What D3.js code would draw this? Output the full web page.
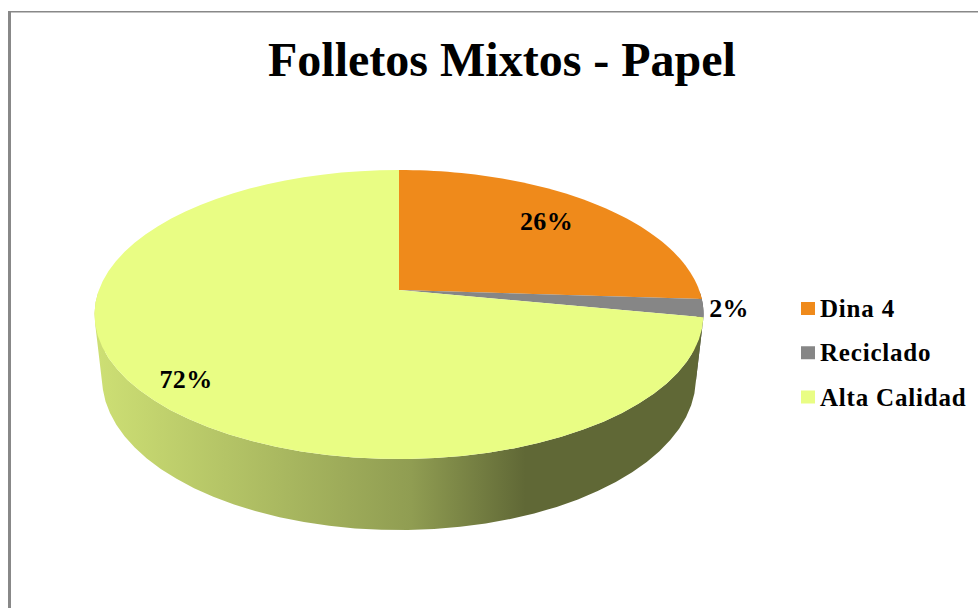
<!DOCTYPE html>
<html lang="es">
<head>
<meta charset="utf-8">
<title>Folletos Mixtos - Papel</title>
<script src="https://cdn.jsdelivr.net/npm/d3@7/dist/d3.min.js"></script>
<style>
  html, body { margin: 0; padding: 0; background: #fff; }
  svg { display: block; }
  text { font-family: "Liberation Serif", serif; font-weight: 700; fill: #000; }
</style>
</head>
<body>
<svg id="chart" width="978" height="608"></svg>
<script>
const chartTitle = "Folletos Mixtos - Papel";
const categories = ["Dina 4", "Reciclado", "Alta Calidad"];
const shares = [26, 2, 72];
const sliceColors = ["#ef8a1b", "#868686", "#e9fd84"];
const sideStops = [
  { at: 0, k: 0.88 },
  { at: 0.52, k: 0.62 },
  { at: 0.71, k: 0.41 },
  { at: 1, k: 0.41 }
];

const W = 978, H = 608;
const svg = d3.select("#chart");

// Frame: only the top and left edges are visible.
svg.append("rect").attr("x", 8).attr("y", 11).attr("width", 3).attr("height", H - 11).attr("fill", "#888");
svg.append("rect").attr("x", 8).attr("y", 11).attr("width", W - 8).attr("height", 1.5).attr("fill", "#888");

// Perspective projection of the disc: z = 0 is the top face, z = 1 the base.
const view = { cx: 399, apexY: 290, radius: 300.1, tilt: 91.2, persp: -0.1696, depth: 72.2, taper: 0.025 };
function project(angle, z, r = 1) {
  const u = r * Math.sin(angle), v = -r * Math.cos(angle);
  const w = 1 + view.persp * v + view.taper * z;
  return [
    view.cx + view.radius * u / w,
    (view.apexY + view.tilt * v + view.depth * z) / w
  ];
}

const pie = d3.pie().value(d => d).sort(null);
const arcs = pie(shares);
const line = d3.line();
const angleSteps = a => d3.range(0, 61).map(i => a.startAngle + (a.endAngle - a.startAngle) * i / 60);

// Wall shading runs from lit on the left to shadow on the right.
const defs = svg.append("defs");
const shadeX = d3.scaleLinear().domain([0, 1]).range([98, 700]);
arcs.forEach((a, i) => {
  const g = defs.append("linearGradient")
    .attr("id", `wall-${i}`)
    .attr("gradientUnits", "userSpaceOnUse")
    .attr("x1", shadeX(0)).attr("x2", shadeX(1))
    .attr("y1", 0).attr("y2", 0);
  const base = d3.rgb(sliceColors[i]);
  sideStops.forEach(s => {
    g.append("stop")
      .attr("offset", s.at)
      .attr("stop-color", d3.rgb(base.r * s.k, base.g * s.k, base.b * s.k).formatHex());
  });
});

// Wall: quads between the top rim and the base rim, front half only.
// Each quad is wound the same way so overlaps near the silhouette stay filled.
const walls = svg.append("g");
arcs.forEach((a, i) => {
  const steps = angleSteps(a);
  const d = d3.pairs(steps)
    .filter(([s, e]) => Math.cos((s + e) / 2) < 0)
    .map(([s, e]) => {
      const quad = [project(s, 0), project(e, 0), project(e, 1), project(s, 1)];
      if (d3.polygonArea(quad) < 0) quad.reverse();
      return line(quad) + "Z";
    }).join("");
  walls.append("path")
    .attr("d", d)
    .attr("fill", `url(#wall-${i})`);
});

// Top face.
svg.append("g").selectAll("path")
  .data(arcs)
  .join("path")
  .attr("d", a => line([project(0, 0, 0), ...angleSteps(a).map(t => project(t, 0))]) + "Z")
  .attr("fill", (a, i) => sliceColors[i]);

// Title.
svg.append("text")
  .attr("x", 502).attr("y", 76)
  .attr("text-anchor", "middle")
  .attr("font-size", 48)
  .text(chartTitle);

// Value labels.
const labelAnchors = [[546.5, 230], [729, 317], [186, 388]];
svg.append("g").selectAll("text")
  .data(shares)
  .join("text")
  .attr("x", (d, i) => labelAnchors[i][0])
  .attr("y", (d, i) => labelAnchors[i][1])
  .attr("text-anchor", "middle")
  .attr("font-size", 26)
  .attr("letter-spacing", 0.3)
  .text(d => `${d}%`);

// Legend.
const legendY = d3.scalePoint().domain(categories).range([317, 405.5]);
const legend = svg.append("g").selectAll("g")
  .data(categories)
  .join("g")
  .attr("transform", d => `translate(801,${legendY(d)})`);
legend.append("rect")
  .attr("x", 0).attr("y", -15)
  .attr("width", 14).attr("height", 13)
  .attr("fill", (d, i) => sliceColors[i]);
legend.append("text")
  .attr("x", 19)
  .attr("font-size", 25)
  .attr("letter-spacing", 0.8)
  .text(d => d);
</script>
</body>
</html>
